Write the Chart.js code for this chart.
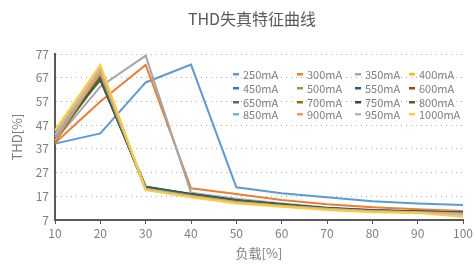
<!DOCTYPE html>
<html>
<head>
<meta charset="utf-8">
<script src="https://cdn.jsdelivr.net/npm/chart.js@4"></script>
<style>
  html, body { margin: 0; padding: 0; background: #fff; }
  #wrap { width: 476px; height: 264px; position: relative; }
</style>
</head>
<body>
<div id="wrap"><canvas id="thdChart" width="476" height="264"></canvas></div>
<script>
const loads = ['10', '20', '30', '40', '50', '60', '70', '80', '90', '100'];
const yTicks = [7, 17, 27, 37, 47, 57, 67, 77];

const seriesNames = ['250mA', '300mA', '350mA', '400mA', '450mA', '500mA', '550mA', '600mA',
    '650mA', '700mA', '750mA', '800mA', '850mA', '900mA', '950mA', '1000mA'];
const seriesColors = ['#5B9BD5', '#ED7D31', '#A5A5A5', '#FFC000', '#4472C4', '#70AD47', '#255E91', '#9E480E',
    '#636363', '#997300', '#264478', '#43682B', '#7CAFDD', '#F1975A', '#B7B7B7', '#FFCD33'];

const thd250 = [39.2, 43.5, 65, 72.5, 20.8, 18.3, 16.6, 14.9, 14, 13.3];
const thd300 = [39.5, 57, 72.4, 20.4, 18, 15.4, 13.6, 12.4, 11.5, 10.8];
const thd350 = [40.5, 63.2, 76.3, 18.5, 16, 14, 12.3, 11.2, 10.7, 9.8];
const thd400 = [44, 70, 20, 16.8, 14.3, 13, 11.5, 10.8, 10.4, 9.3];
const thd450 = [43, 67.5, 20.5, 17.5, 15, 13.3, 12, 11, 10.6, 10.2];
const thd500 = [41, 67, 20, 17, 14.5, 13, 11.7, 10.7, 10.3, 9.6];
const thd550 = [42.5, 66.5, 20.8, 17.8, 15.2, 13.5, 12, 11, 10.5, 10.3];
const thd600 = [41.5, 68, 20.3, 17.2, 14.7, 13.2, 11.8, 10.8, 10.4, 9.9];
const thd650 = [42, 67, 21, 18, 15.3, 13.6, 12.1, 11.2, 10.6, 10.2];
const thd700 = [40, 68.5, 20, 17, 14.5, 13, 11.6, 10.6, 10.2, 9.4];
const thd750 = [43.5, 66, 21, 18, 15.3, 13.6, 12, 11, 10.6, 10.1];
const thd800 = [41, 66.5, 20.8, 17.8, 15.2, 13.5, 12, 11, 10.6, 10.2];
const thd850 = [42, 69, 20.2, 17.2, 14.6, 13, 11.7, 10.7, 10.3, 9.7];
const thd900 = [40.5, 69.5, 20, 17, 14.5, 13, 11.6, 10.7, 10.2, 9.5];
const thd950 = [43, 71, 20, 16.8, 14.3, 12.8, 11.4, 10.6, 10.2, 9.2];
const thd1000 = [44.8, 72.4, 19.6, 16.6, 14, 12.6, 11.2, 10.3, 9.9, 8.4];

const seriesValues = [thd250, thd300, thd350, thd400, thd450, thd500, thd550, thd600,
    thd650, thd700, thd750, thd800, thd850, thd900, thd950, thd1000];

const FONT = "'Noto Sans CJK SC', 'Noto Sans', sans-serif";

// title + legend drawn by hand, legend sits inside the plot area
const overlayPlugin = {
    id: 'overlay',
    afterDraw(chart) {
        const ctx = chart.ctx;
        ctx.save();
        ctx.fillStyle = '#595959';
        ctx.font = '16px ' + FONT;
        ctx.textAlign = 'center';
        ctx.textBaseline = 'middle';
        ctx.fillText('THD失真特征曲线', 252, 19);

        const colX = [233, 297, 355, 409];
        const rowY = [74, 88, 102, 114];
        ctx.font = '11px ' + FONT;
        ctx.textAlign = 'left';
        chart.data.datasets.forEach((ds, i) => {
            const x = colX[i % 4];
            const y = rowY[Math.floor(i / 4)];
            ctx.fillStyle = ds.borderColor;
            ctx.fillRect(x, y - 1, 6, 2.5);
            ctx.fillStyle = '#7f7f7f';
            ctx.fillText(ds.label, x + 10, y + 1);
        });
        ctx.restore();
    }
};

new Chart(document.getElementById('thdChart'), {
    type: 'line',
    data: {
        labels: loads,
        datasets: seriesNames.map((name, i) => ({
            label: name,
            data: seriesValues[i],
            borderColor: seriesColors[i],
            backgroundColor: seriesColors[i],
            borderWidth: 2,
            pointRadius: 0,
            tension: 0,
            order: seriesNames.length - i
        }))
    },
    options: {
        responsive: false,
        animation: false,
        layout: { padding: { left: 0, right: 13, top: 54, bottom: 0 } },
        plugins: {
            legend: { display: false },
            title: { display: false },
            tooltip: { enabled: false }
        },
        scales: {
            x: {
                offset: false,
                grid: { drawOnChartArea: false, drawTicks: true, tickLength: 4, color: '#595959' },
                border: { color: '#595959', width: 2 },
                ticks: { color: '#7f7f7f', font: { family: FONT, size: 12 }, padding: 2, maxRotation: 0 },
                title: { display: true, text: '负载[%]', color: '#7f7f7f', font: { family: FONT, size: 13 }, padding: { top: 0, bottom: 3 } },
                afterFit(scale) { scale.height = 44; }
            },
            y: {
                min: 7,
                max: 77,
                afterBuildTicks(scale) { scale.ticks = yTicks.map(v => ({ value: v })); },
                grid: { color: '#b0b0b0', lineWidth: 1, drawTicks: false },
                border: { color: '#595959', width: 2, dash: [1, 4] },
                ticks: { color: '#7f7f7f', font: { family: FONT, size: 12 }, padding: 6 },
                title: { display: true, text: 'THD[%]', color: '#7f7f7f', font: { family: FONT, size: 13 }, padding: { top: 9, bottom: 0 } },
                afterFit(scale) { scale.width = 55; }
            }
        }
    },
    plugins: [overlayPlugin]
});
</script>
</body>
</html>
